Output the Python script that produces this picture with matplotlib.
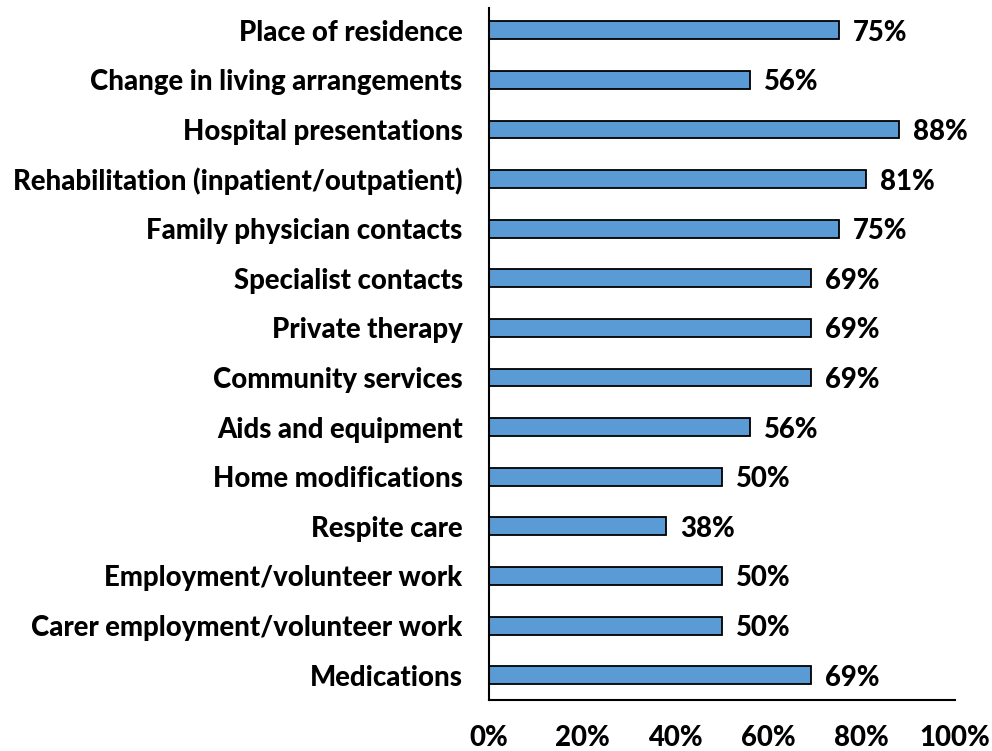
import matplotlib
matplotlib.use("Agg")
import matplotlib.pyplot as plt
from matplotlib.ticker import FuncFormatter

categories = [
    "Place of residence",
    "Change in living arrangements",
    "Hospital presentations",
    "Rehabilitation (inpatient/outpatient)",
    "Family physician contacts",
    "Specialist contacts",
    "Private therapy",
    "Community services",
    "Aids and equipment",
    "Home modifications",
    "Respite care",
    "Employment/volunteer work",
    "Carer employment/volunteer work",
    "Medications",
]
values = [75, 56, 88, 81, 75, 69, 69, 69, 56, 50, 38, 50, 50, 69]
xticks = [0, 20, 40, 60, 80, 100]

plt.rcParams['font.family'] = ['Lato', 'DejaVu Sans']
plt.rcParams['font.weight'] = 'bold'

FS = 19.8
W = 900

fig = plt.figure(figsize=(9.92, 7.51), dpi=100)
ax = fig.add_axes([489/992, 1 - 700/751, (955 - 489)/992, (700 - 8)/751])

ypos = list(range(len(categories)))
ax.barh(ypos, values, height=0.36, color="#5B9BD5", edgecolor="black", linewidth=1.3)

for y, v in zip(ypos, values):
    ax.text(v + 3.0, y + 0.05, f"{v}%", va="center", ha="left", fontsize=FS, fontweight=W)

ax.set_xlim(0, 100)
ax.set_ylim(len(categories) - 0.5, -0.45)
ax.set_yticks(ypos)
ax.set_yticklabels(categories, fontsize=FS, fontweight=W)
ax.set_xticks(xticks)
ax.xaxis.set_major_formatter(FuncFormatter(lambda x, p: f"{int(x)}%"))
for lab in ax.get_xticklabels():
    lab.set_fontsize(FS)
    lab.set_fontweight(W)
ax.tick_params(axis="both", length=0)
ax.tick_params(axis="y", pad=19)
ax.tick_params(axis="x", pad=18)
ax.spines["top"].set_visible(False)
ax.spines["right"].set_visible(False)
ax.spines["left"].set_linewidth(1.5)
ax.spines["bottom"].set_linewidth(1.5)

fig.savefig("out.png", dpi=100)
